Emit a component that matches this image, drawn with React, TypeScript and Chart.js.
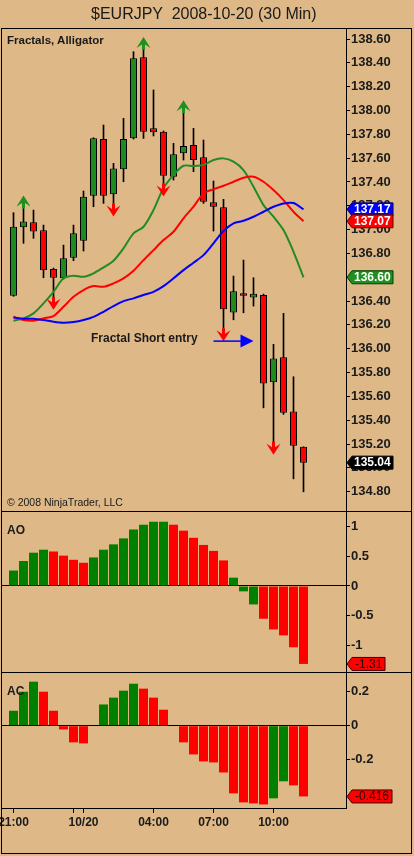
import React, { useEffect, useRef } from "react";
import { Chart, registerables } from "chart.js";

Chart.register(...registerables);

// ---------- DATA ----------
const barNumbers = [1, 2, 3, 4, 5, 6, 7, 8, 9, 10, 11, 12, 13, 14, 15, 16, 17, 18, 19, 20, 21, 22, 23, 24, 25, 26, 27, 28, 29, 30];

const opens = [136.445, 137.019, 137.061, 136.994, 136.669, 136.591, 136.764, 136.907, 137.284, 137.76, 137.296, 137.506, 137.766, 138.446, 137.85, 137.822, 137.444, 137.64, 137.71, 137.607, 137.229, 137.187, 136.305, 136.465, 136.431, 136.451, 135.718, 135.928, 135.474, 135.177];
const highs = [137.142, 137.178, 137.164, 137.038, 136.677, 136.87, 137.038, 137.324, 137.771, 137.878, 137.556, 137.934, 138.493, 138.508, 138.172, 137.828, 137.724, 137.976, 137.85, 137.752, 137.408, 137.254, 136.61, 136.744, 136.596, 136.459, 136.037, 136.297, 135.765, 135.177];
const lows = [136.44, 136.885, 136.927, 136.596, 136.436, 136.585, 136.739, 136.82, 137.192, 137.22, 137.22, 137.402, 137.76, 137.766, 137.786, 137.388, 137.416, 137.584, 137.486, 137.22, 136.988, 136.171, 136.243, 136.302, 136.358, 135.504, 135.219, 135.449, 134.908, 134.799];
const closes = [137.024, 137.069, 136.985, 136.658, 136.596, 136.759, 136.969, 137.276, 137.766, 137.284, 137.514, 137.76, 138.438, 137.822, 137.817, 137.452, 137.632, 137.702, 137.584, 137.234, 137.192, 136.331, 136.482, 136.445, 136.462, 135.709, 135.919, 135.462, 135.185, 135.044];

// Alligator
const jawBlue = [136.263, 136.252, 136.252, 136.241, 136.226, 136.218, 136.224, 136.241, 136.268, 136.31, 136.358, 136.4, 136.423, 136.451, 136.478, 136.526, 136.591, 136.66, 136.722, 136.786, 136.885, 136.988, 137.053, 137.074, 137.108, 137.15, 137.192, 137.22, 137.223, 137.17];
const teethRed = [136.268, 136.241, 136.235, 136.255, 136.274, 136.352, 136.436, 136.493, 136.526, 136.52, 136.549, 136.591, 136.655, 136.744, 136.828, 136.912, 136.982, 137.095, 137.192, 137.304, 137.338, 137.368, 137.402, 137.435, 137.444, 137.402, 137.332, 137.248, 137.15, 137.07];
const lipsGreen = [136.235, 136.255, 136.297, 136.381, 136.478, 136.591, 136.613, 136.604, 136.633, 136.683, 136.739, 136.843, 136.969, 137.024, 137.164, 137.349, 137.458, 137.536, 137.534, 137.542, 137.584, 137.598, 137.57, 137.5, 137.36, 137.206, 137.108, 136.996, 136.814, 136.6];

// Fractals
const fractalUpBars = [2, 14, 18];
const fractalDownBars = [5, 11, 16, 22, 27];

// Annotation
const shortEntryText = "Fractal Short entry";
const shortEntryPrice = 136.064;
const shortEntryFromBar = 21;
const shortEntryToBar = 25;

// Awesome Oscillator
const aoValues = [0.26, 0.42, 0.56, 0.61, 0.58, 0.51, 0.44, 0.39, 0.48, 0.61, 0.7, 0.8, 0.95, 1.03, 1.08, 1.08, 1.03, 0.93, 0.81, 0.69, 0.59, 0.43, 0.14, -0.09, -0.31, -0.55, -0.73, -0.83, -1.03, -1.31];
const aoColors = "GGGGRRRRGGGGGGGGRRRRRRGGGRRRRR".split("");

// Accelerator Oscillator
const acValues = [0.088, 0.2, 0.259, 0.2, 0.088, -0.022, -0.098, -0.104, 0, 0.125, 0.165, 0.206, 0.247, 0.218, 0.165, 0.094, 0, -0.098, -0.169, -0.21, -0.216, -0.275, -0.398, -0.451, -0.457, -0.463, -0.427, -0.327, -0.351, -0.416];
const acColors = "GGGRRRRRGGGGGRRRRRRRRRRRRRGGRR".split("");

// Ticks
const priceTickValues = [134.8, 135.0, 135.2, 135.4, 135.6, 135.8, 136.0, 136.2, 136.4, 136.6, 136.8, 137.0, 137.2, 137.4, 137.6, 137.8, 138.0, 138.2, 138.4, 138.6];
const aoTickValues = [1, 0.5, 0, -0.5, -1];
const acTickValues = [0.2, 0, -0.2];
const timeTickBars = [1, 7, 8, 15, 21, 27];
const timeTickLabels = ["21:00", "", "10/20", "04:00", "07:00", "10:00"];

// ---------- STYLE ----------
const BG = "#DEB887";
const TEXT = "#1a1a1a";
const CANDLE_UP = "#1E8B1E";
const CANDLE_DOWN = "#FF0000";
const HIST_UP = "#008000";
const HIST_DOWN = "#FF0000";
const FONT = '"Liberation Sans", Arial, Helvetica, sans-serif';
const X_MIN = -0.15;
const X_MAX = 34.25;
const AXIS_W = 68;

function drawTag(ctx: CanvasRenderingContext2D, x: number, yc: number, text: string, fill: string, stroke: string, textColor: string, font: string, padX: number) {
  ctx.save();
  ctx.font = font;
  const tw = ctx.measureText(text).width;
  const h = 13;
  const bx = x + 5;
  const bw = Math.round(tw + padX * 2);
  ctx.beginPath();
  ctx.moveTo(x, yc);
  ctx.lineTo(bx, yc - h / 2);
  ctx.lineTo(bx + bw, yc - h / 2);
  ctx.lineTo(bx + bw, yc + h / 2);
  ctx.lineTo(bx, yc + h / 2);
  ctx.closePath();
  ctx.fillStyle = fill;
  ctx.fill();
  ctx.lineWidth = 1;
  ctx.strokeStyle = stroke;
  ctx.stroke();
  ctx.fillStyle = textColor;
  ctx.textBaseline = "middle";
  ctx.textAlign = "left";
  ctx.fillText(text, bx + padX, yc + 0.5);
  ctx.restore();
}

function drawFractalArrow(ctx: CanvasRenderingContext2D, cx: number, base: number, dir: number, color: string) {
  const h = 13;
  const w = 7;
  const tip = base + dir * h;
  ctx.save();
  ctx.fillStyle = color;
  ctx.beginPath();
  ctx.moveTo(cx, tip);
  ctx.lineTo(cx + w, tip - dir * 11);
  ctx.lineTo(cx + 1.5, tip - dir * 7.5);
  ctx.lineTo(cx + 1.5, base);
  ctx.lineTo(cx - 1.5, base);
  ctx.lineTo(cx - 1.5, tip - dir * 7.5);
  ctx.lineTo(cx - w, tip - dir * 11);
  ctx.closePath();
  ctx.fill();
  ctx.restore();
}

const pricePlugin = {
  id: "priceExtras",
  afterDatasetsDraw(chart: any) {
    const { ctx } = chart;
    const x = chart.scales.x;
    const y = chart.scales.y;
    fractalUpBars.forEach((b) => {
      drawFractalArrow(ctx, x.getPixelForValue(b), y.getPixelForValue(highs[b - 1]), -1, "#1F8F1F");
    });
    fractalDownBars.forEach((b) => {
      drawFractalArrow(ctx, x.getPixelForValue(b), y.getPixelForValue(lows[b - 1]), 1, "#FF0000");
    });
    const ay = y.getPixelForValue(shortEntryPrice);
    const x0 = x.getPixelForValue(shortEntryFromBar);
    const x1 = x.getPixelForValue(shortEntryToBar);
    ctx.save();
    ctx.strokeStyle = "#0000FF";
    ctx.fillStyle = "#0000FF";
    ctx.lineWidth = 1.5;
    ctx.beginPath();
    ctx.moveTo(x0, ay);
    ctx.lineTo(x1 - 12, ay);
    ctx.stroke();
    ctx.beginPath();
    ctx.moveTo(x1, ay);
    ctx.lineTo(x1 - 13, ay - 6.5);
    ctx.lineTo(x1 - 13, ay + 6.5);
    ctx.closePath();
    ctx.fill();
    ctx.restore();
  },
  afterDraw(chart: any) {
    const { ctx } = chart;
    const y = chart.scales.y;
    const left = chart.chartArea.right + 1;
    const font = `bold 12px ${FONT}`;
    const last = barNumbers.length - 1;
    drawTag(ctx, left, y.getPixelForValue(jawBlue[last]), jawBlue[last].toFixed(2), "#0000FF", "#000060", "#FFFFFF", font, 2);
    drawTag(ctx, left, y.getPixelForValue(teethRed[last]), teethRed[last].toFixed(2), "#FF0000", "#600000", "#FFFFFF", font, 2);
    drawTag(ctx, left, y.getPixelForValue(lipsGreen[last]), lipsGreen[last].toFixed(2), "#1F8F1F", "#004000", "#FFFFFF", font, 2);
    drawTag(ctx, left, y.getPixelForValue(closes[last]), closes[last].toFixed(2), "#000000", "#000000", "#FFFFFF", font, 2);
  },
};

function makeOscTagPlugin(values: number[], digits: number) {
  return {
    id: "oscTag",
    afterDraw(chart: any) {
      const { ctx } = chart;
      const y = chart.scales.y;
      const v = values[values.length - 1];
      drawTag(ctx, chart.chartArea.right + 1, y.getPixelForValue(v), v.toFixed(digits), "#FF0000", "#400000", "#2a0000", `12px ${FONT}`, 3);
    },
  };
}

function yAxis(min: number, max: number, tickValues: number[], fmt: (v: number) => string, zeroLine: boolean) {
  return {
    position: "right",
    min,
    max,
    afterFit: (s: any) => {
      s.width = AXIS_W;
      s.paddingTop = 0;
      s.paddingBottom = 0;
    },
    afterBuildTicks: (s: any) => {
      s.ticks = tickValues.map((v) => ({ value: v }));
    },
    ticks: {
      autoSkip: false,
      padding: 1,
      color: TEXT,
      font: { family: FONT, size: 13, weight: "bold" },
      callback: (v: any) => fmt(Number(v)),
    },
    grid: {
      drawOnChartArea: zeroLine,
      drawTicks: true,
      tickLength: 4,
      color: (c: any) => (zeroLine ? (c.tick && c.tick.value === 0 ? "#000000" : "rgba(0,0,0,0)") : "#000000"),
      tickColor: "#000000",
      lineWidth: 1,
    },
    border: { display: true, color: "#000000", width: 1 },
  };
}

const hiddenX = { type: "linear", display: false, min: X_MIN, max: X_MAX, offset: false, bounds: "data" };

const baseOptions = {
  responsive: false,
  animation: false,
  devicePixelRatio: 1,
  layout: { padding: { left: 2, right: 0, top: 0, bottom: 0 } },
  plugins: { legend: { display: false }, tooltip: { enabled: false } },
};

export default function App() {
  const priceRef = useRef<HTMLCanvasElement>(null);
  const aoRef = useRef<HTMLCanvasElement>(null);
  const acRef = useRef<HTMLCanvasElement>(null);

  useEffect(() => {
    const bodyData = barNumbers.map((b, i) => ({ x: b, y: [opens[i], closes[i]] }));
    const wickData = barNumbers.map((b, i) => ({ x: b, y: [lows[i], highs[i]] }));
    const bodyColors = barNumbers.map((_, i) => (closes[i] >= opens[i] ? CANDLE_UP : CANDLE_DOWN));
    const line = (vals: number[], color: string) => ({
      type: "line",
      data: barNumbers.map((b, i) => ({ x: b, y: vals[i] })),
      borderColor: color,
      borderWidth: 2,
      pointRadius: 0,
      tension: 0.3,
      fill: false,
      order: 0,
    });

    const priceChart = new Chart(priceRef.current as HTMLCanvasElement, {
      type: "bar",
      data: {
        datasets: [
          line(jawBlue, "#0000FF"),
          line(teethRed, "#FF0000"),
          line(lipsGreen, "#228B22"),
          {
            type: "bar",
            data: bodyData,
            backgroundColor: bodyColors,
            borderColor: "#000000",
            borderWidth: 1,
            borderSkipped: false,
            barPercentage: 0.7,
            categoryPercentage: 1,
            grouped: false,
            order: 1,
          },
          {
            type: "bar",
            data: wickData,
            backgroundColor: "#000000",
            borderWidth: 0,
            maxBarThickness: 1,
            barPercentage: 1,
            categoryPercentage: 1,
            grouped: false,
            order: 2,
          },
        ] as any,
      },
      options: {
        ...baseOptions,
        scales: {
          x: hiddenX,
          y: yAxis(134.638, 138.684, priceTickValues, (v) => v.toFixed(2), false),
        },
      } as any,
      plugins: [pricePlugin],
    });

    const aoChart = new Chart(aoRef.current as HTMLCanvasElement, {
      type: "bar",
      data: {
        datasets: [
          {
            data: barNumbers.map((b, i) => ({ x: b, y: aoValues[i] })),
            backgroundColor: aoColors.map((c) => (c === "G" ? HIST_UP : HIST_DOWN)),
            borderWidth: 0,
            barPercentage: 0.9,
            categoryPercentage: 1,
            grouped: false,
          },
        ] as any,
      },
      options: {
        ...baseOptions,
        scales: {
          x: hiddenX,
          y: yAxis(-1.4454, 1.2437, aoTickValues, (v) => String(v), true),
        },
      } as any,
      plugins: [makeOscTagPlugin(aoValues, 2)],
    });

    const acChart = new Chart(acRef.current as HTMLCanvasElement, {
      type: "bar",
      data: {
        datasets: [
          {
            data: barNumbers.map((b, i) => ({ x: b, y: acValues[i] })),
            backgroundColor: acColors.map((c) => (c === "G" ? HIST_UP : HIST_DOWN)),
            borderWidth: 0,
            barPercentage: 0.9,
            categoryPercentage: 1,
            grouped: false,
          },
        ] as any,
      },
      options: {
        ...baseOptions,
        scales: {
          x: {
            type: "linear",
            position: "bottom",
            min: X_MIN,
            max: X_MAX,
            offset: false,
            bounds: "data",
            afterFit: (s: any) => {
              s.height = 48;
              s.paddingLeft = 0;
              s.paddingRight = 0;
            },
            afterBuildTicks: (s: any) => {
              s.ticks = timeTickBars.map((v) => ({ value: v }));
            },
            ticks: {
              autoSkip: false,
              maxRotation: 0,
              padding: 2,
              color: TEXT,
              font: { family: FONT, size: 12, weight: "bold" },
              callback: (_v: any, i: number) => timeTickLabels[i],
            },
            grid: { drawOnChartArea: false, drawTicks: true, tickLength: 5, color: "#000000", offset: false },
            border: { display: true, color: "#000000", width: 1 },
          },
          y: yAxis(-0.484, 0.31, acTickValues, (v) => String(v), true),
        },
      } as any,
      plugins: [makeOscTagPlugin(acValues, 3)],
    });

    return () => {
      priceChart.destroy();
      aoChart.destroy();
      acChart.destroy();
    };
  }, []);

  const abs = (extra: React.CSSProperties): React.CSSProperties => ({ position: "absolute", margin: 0, lineHeight: 1, whiteSpace: "pre", color: TEXT, fontFamily: FONT, ...extra });

  return (
    <div style={{ position: "absolute", left: 0, top: 0, width: 414, height: 856, background: BG, overflow: "hidden", fontFamily: FONT }}>
      <canvas ref={priceRef} width={414} height={482} style={{ position: "absolute", left: 0, top: 29, width: 414, height: 482 }} />
      <canvas ref={aoRef} width={414} height={160} style={{ position: "absolute", left: 0, top: 512, width: 414, height: 160 }} />
      <canvas ref={acRef} width={414} height={183} style={{ position: "absolute", left: 0, top: 673, width: 414, height: 183 }} />

      <div style={{ position: "absolute", left: 1, top: 28, width: 409, height: 824, border: "1px solid #000" }} />
      <div style={{ position: "absolute", left: 1, top: 511, width: 411, height: 1, background: "#000" }} />
      <div style={{ position: "absolute", left: 1, top: 672, width: 411, height: 1, background: "#000" }} />

      <div style={abs({ left: 91, top: 6, fontSize: 16 })}>{"$EURJPY  2008-10-20 (30 Min)"}</div>
      <div style={abs({ left: 7, top: 35, fontSize: 11.5, fontWeight: "bold" })}>Fractals, Alligator</div>
      <div style={abs({ left: 91, top: 332, fontSize: 12, fontWeight: "bold" })}>{shortEntryText}</div>
      <div style={abs({ left: 7, top: 497, fontSize: 10.5 })}>© 2008 NinjaTrader, LLC</div>
      <div style={abs({ left: 7, top: 524, fontSize: 12, fontWeight: "bold" })}>AO</div>
      <div style={abs({ left: 7, top: 685, fontSize: 12, fontWeight: "bold" })}>AC</div>
    </div>
  );
}
